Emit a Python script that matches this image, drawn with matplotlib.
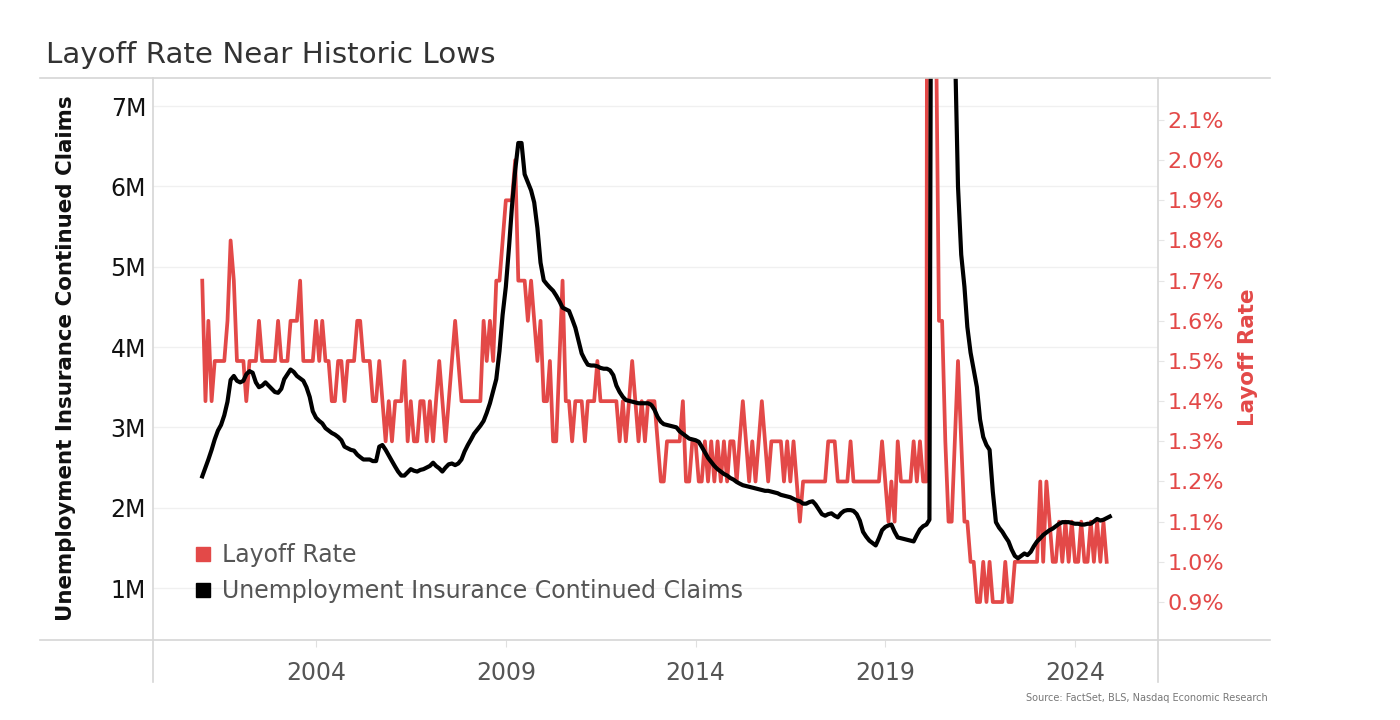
import matplotlib
matplotlib.use("Agg")
import matplotlib.pyplot as plt
from matplotlib.lines import Line2D
from matplotlib.transforms import blended_transform_factory
import numpy as np
import pandas as pd

# JOLTS layoff rate (%), monthly from Jan 2001
layoff_rate = [
    1.7, 1.4, 1.6, 1.4, 1.5, 1.5, 1.5, 1.5, 1.6, 1.8, 1.7, 1.5,  # 2001
    1.5, 1.5, 1.4, 1.5, 1.5, 1.5, 1.6, 1.5, 1.5, 1.5, 1.5, 1.5,  # 2002
    1.6, 1.5, 1.5, 1.5, 1.6, 1.6, 1.6, 1.7, 1.5, 1.5, 1.5, 1.5,  # 2003
    1.6, 1.5, 1.6, 1.5, 1.5, 1.4, 1.4, 1.5, 1.5, 1.4, 1.5, 1.5,  # 2004
    1.5, 1.6, 1.6, 1.5, 1.5, 1.5, 1.4, 1.4, 1.5, 1.4, 1.3, 1.4,  # 2005
    1.3, 1.4, 1.4, 1.4, 1.5, 1.3, 1.4, 1.3, 1.3, 1.4, 1.4, 1.3,  # 2006
    1.4, 1.3, 1.4, 1.5, 1.4, 1.3, 1.4, 1.5, 1.6, 1.5, 1.4, 1.4,  # 2007
    1.4, 1.4, 1.4, 1.4, 1.4, 1.6, 1.5, 1.6, 1.5, 1.7, 1.7, 1.8,  # 2008
    1.9, 1.9, 1.9, 2.0, 1.7, 1.7, 1.7, 1.6, 1.7, 1.6, 1.5, 1.6,  # 2009
    1.4, 1.4, 1.5, 1.3, 1.3, 1.5, 1.7, 1.4, 1.4, 1.3, 1.4, 1.4,  # 2010
    1.4, 1.3, 1.4, 1.4, 1.4, 1.5, 1.4, 1.4, 1.4, 1.4, 1.4, 1.4,  # 2011
    1.3, 1.4, 1.3, 1.4, 1.5, 1.4, 1.3, 1.4, 1.3, 1.4, 1.4, 1.4,  # 2012
    1.3, 1.2, 1.2, 1.3, 1.3, 1.3, 1.3, 1.3, 1.4, 1.2, 1.2, 1.3,  # 2013
    1.3, 1.2, 1.2, 1.3, 1.2, 1.3, 1.2, 1.3, 1.2, 1.3, 1.2, 1.3,  # 2014
    1.3, 1.2, 1.3, 1.4, 1.3, 1.2, 1.3, 1.2, 1.3, 1.4, 1.3, 1.2,  # 2015
    1.3, 1.3, 1.3, 1.3, 1.2, 1.3, 1.2, 1.3, 1.2, 1.1, 1.2, 1.2,  # 2016
    1.2, 1.2, 1.2, 1.2, 1.2, 1.2, 1.3, 1.3, 1.3, 1.2, 1.2, 1.2,  # 2017
    1.2, 1.3, 1.2, 1.2, 1.2, 1.2, 1.2, 1.2, 1.2, 1.2, 1.2, 1.3,  # 2018
    1.2, 1.1, 1.2, 1.1, 1.3, 1.2, 1.2, 1.2, 1.2, 1.3, 1.2, 1.3,  # 2019
    1.2, 1.2, 7.5, 5.9, 2.4, 1.6, 1.6, 1.3, 1.1, 1.1, 1.3, 1.5,  # 2020
    1.3, 1.1, 1.1, 1.0, 1.0, 0.9, 0.9, 1.0, 0.9, 1.0, 0.9, 0.9,  # 2021
    0.9, 0.9, 1.0, 0.9, 0.9, 1.0, 1.0, 1.0, 1.0, 1.0, 1.0, 1.0,  # 2022
    1.0, 1.2, 1.0, 1.2, 1.1, 1.0, 1.0, 1.1, 1.0, 1.1, 1.0, 1.1,  # 2023
    1.0, 1.0, 1.1, 1.0, 1.0, 1.1, 1.0, 1.1, 1.0, 1.1, 1.0,       # 2024
]

# Unemployment insurance continued claims (millions), monthly from Jan 2001
continued_claims = [
    2.39, 2.50, 2.60, 2.72, 2.85, 2.96, 3.03, 3.15, 3.32, 3.59, 3.64, 3.58,  # 2001
    3.56, 3.58, 3.66, 3.70, 3.68, 3.56, 3.50, 3.52, 3.56, 3.52, 3.48, 3.44,  # 2002
    3.43, 3.48, 3.60, 3.66, 3.72, 3.69, 3.64, 3.61, 3.58, 3.50, 3.38, 3.20,  # 2003
    3.12, 3.08, 3.05, 2.99, 2.96, 2.93, 2.91, 2.88, 2.84, 2.76, 2.74, 2.72,  # 2004
    2.71, 2.66, 2.63, 2.60, 2.60, 2.60, 2.58, 2.58, 2.76, 2.78, 2.72, 2.65,  # 2005
    2.58, 2.51, 2.45, 2.40, 2.40, 2.44, 2.48, 2.46, 2.45, 2.47, 2.48, 2.50,  # 2006
    2.52, 2.56, 2.52, 2.49, 2.45, 2.50, 2.54, 2.55, 2.53, 2.55, 2.60, 2.70,  # 2007
    2.78, 2.85, 2.92, 2.97, 3.02, 3.08, 3.18, 3.30, 3.45, 3.60, 3.95, 4.40,  # 2008
    4.75, 5.25, 5.75, 6.20, 6.54, 6.54, 6.15, 6.05, 5.95, 5.80, 5.48, 5.05,  # 2009
    4.83, 4.78, 4.74, 4.70, 4.64, 4.57, 4.49, 4.47, 4.45, 4.35, 4.24, 4.08,  # 2010
    3.92, 3.84, 3.78, 3.77, 3.77, 3.76, 3.74, 3.73, 3.73, 3.71, 3.65, 3.52,  # 2011
    3.44, 3.38, 3.34, 3.33, 3.32, 3.31, 3.30, 3.30, 3.30, 3.30, 3.28, 3.22,  # 2012
    3.13, 3.07, 3.04, 3.03, 3.02, 3.01, 3.00, 2.95, 2.92, 2.89, 2.86, 2.85,  # 2013
    2.84, 2.82, 2.76, 2.69, 2.62, 2.57, 2.52, 2.48, 2.45, 2.42, 2.40, 2.37,  # 2014
    2.35, 2.32, 2.30, 2.28, 2.27, 2.26, 2.25, 2.24, 2.23, 2.22, 2.21, 2.21,  # 2015
    2.20, 2.19, 2.18, 2.16, 2.15, 2.14, 2.13, 2.11, 2.09, 2.08, 2.05, 2.05,  # 2016
    2.07, 2.08, 2.04, 1.98, 1.92, 1.90, 1.92, 1.93, 1.90, 1.88, 1.93, 1.96,  # 2017
    1.97, 1.97, 1.96, 1.92, 1.84, 1.70, 1.64, 1.59, 1.56, 1.53, 1.62, 1.72,  # 2018
    1.76, 1.78, 1.79, 1.70, 1.63, 1.62, 1.61, 1.60, 1.59, 1.58, 1.66, 1.73,  # 2019
    1.77, 1.79, 1.85, 16.0, 21.5, 18.5, 16.5, 14.5, 12.0, 9.5, 7.8, 6.0,     # 2020
    5.15, 4.75, 4.25, 3.93, 3.72, 3.50, 3.10, 2.88, 2.78, 2.72, 2.20, 1.82,  # 2021
    1.75, 1.70, 1.64, 1.58, 1.48, 1.40, 1.37, 1.40, 1.43, 1.41, 1.45, 1.52,  # 2022
    1.58, 1.62, 1.66, 1.69, 1.72, 1.74, 1.77, 1.80, 1.82, 1.82, 1.82, 1.81,  # 2023
    1.80, 1.80, 1.79, 1.79, 1.80, 1.80, 1.83, 1.86, 1.84, 1.85, 1.87, 1.89,  # 2024
]

claims_ticks = [1, 2, 3, 4, 5, 6, 7]
rate_ticks = [0.9, 1.0, 1.1, 1.2, 1.3, 1.4, 1.5, 1.6, 1.7, 1.8, 1.9, 2.0, 2.1]
year_ticks = [2004, 2009, 2014, 2019, 2024]

RED = "#e34948"
GRID = "#f0f0f0"
FRAME = "#d6d6d6"

rate_dates = pd.date_range("2001-01-01", periods=len(layoff_rate), freq="MS")
claims_dates = pd.date_range("2001-01-01", periods=len(continued_claims), freq="MS")

fig = plt.figure(figsize=(14, 7.2), dpi=100)
# rate axis drawn first so the black claims line sits on top
ax_r = fig.add_axes([153 / 1400, 1 - 640 / 720, 1005 / 1400, 562 / 720])
ax_c = ax_r.twinx()

for a in (ax_r, ax_c):
    for s in a.spines.values():
        s.set_visible(False)

ax_r.plot(rate_dates, layoff_rate, color=RED, lw=2.7, zorder=3)
ax_c.plot(claims_dates, continued_claims, color="black", lw=3.0, zorder=3)

ax_r.set_xlim(pd.Timestamp("1999-09-15"), pd.Timestamp("2026-03-10"))
ax_r.set_ylim(0.8054, 2.2045)
ax_c.set_ylim(0.353, 7.349)

# faint horizontal grid at the claims ticks, kept under the red line
tr = blended_transform_factory(ax_r.transAxes, ax_c.transData)
for v in claims_ticks:
    ax_r.add_line(Line2D([0, 1], [v, v], transform=tr, color=GRID, lw=1, zorder=1))

# left axis: claims
ax_c.yaxis.tick_left()
ax_c.set_yticks(claims_ticks)
ax_c.set_yticklabels([f"{v}M" for v in claims_ticks])
ax_c.tick_params(axis="y", length=0, labelsize=17, labelcolor="#111111", pad=5)

# right axis: layoff rate
ax_r.yaxis.tick_right()
ax_r.set_yticks(rate_ticks)
ax_r.set_yticklabels([f"{v:.1f}%" for v in rate_ticks])
ax_r.tick_params(axis="y", length=4, color="#e6e6e6", labelsize=16,
                 labelcolor=RED, pad=3)

# x axis
ax_r.set_xticks([pd.Timestamp(f"{y}-01-01") for y in year_ticks])
ax_r.set_xticklabels([str(y) for y in year_ticks])
ax_r.tick_params(axis="x", length=5, color="#e0e0e0", labelsize=17,
                 labelcolor="#555555", pad=10)

# frame lines in the Tableau style
for (x0, y0, x1, y1) in [(40, 78, 1270, 78), (40, 640, 1270, 640),
                         (153, 78, 153, 682), (1158, 78, 1158, 682)]:
    fig.add_artist(Line2D([x0 / 1400, x1 / 1400], [1 - y0 / 720, 1 - y1 / 720],
                          transform=fig.transFigure, color=FRAME, lw=1.2))

# titles and axis labels
fig.text(46 / 1400, 1 - 63 / 720, "Layoff Rate Near Historic Lows",
         fontsize=21.2, color="#333333", va="baseline", ha="left")
fig.text(66 / 1400, 1 - 358 / 720, "Unemployment Insurance Continued Claims",
         rotation=90, fontsize=15.4, fontweight="bold", color="#111111",
         ha="center", va="center")
fig.text(1248 / 1400, 1 - 357 / 720, "Layoff Rate", rotation=90,
         fontsize=15.4, fontweight="bold", color=RED, ha="center", va="center")
fig.text(1268 / 1400, 1 - 701 / 720,
         "Source: FactSet, BLS, Nasdaq Economic Research",
         fontsize=7, color="#777777", ha="right", va="baseline")

# legend
handles = [Line2D([], [], marker="s", color=RED, linestyle="none", markersize=10),
           Line2D([], [], marker="s", color="black", linestyle="none", markersize=10)]
leg = ax_c.legend(handles, ["Layoff Rate", "Unemployment Insurance Continued Claims"],
                  loc="upper left", bbox_to_anchor=(194 / 1400, 1 - 543 / 720),
                  bbox_transform=fig.transFigure, frameon=False, fontsize=17,
                  labelcolor="#555555", handlelength=0.78, handletextpad=0.4,
                  labelspacing=0.52, borderpad=0, borderaxespad=0)

fig.savefig("out.png", dpi=100)
